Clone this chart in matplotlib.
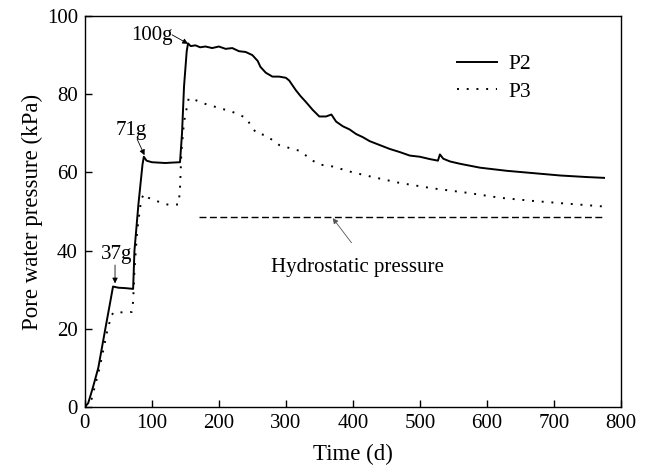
import numpy as np
import matplotlib.pyplot as plt

plt.rcParams['font.family'] = ['Liberation Serif', 'DejaVu Serif']

# ---- data ----
# P2 pore water pressure (kPa) vs time (d)
t_p2 = [0, 5, 12, 20, 30, 38, 42, 50, 60, 72, 74, 80, 86, 88, 92, 100, 110, 120, 130, 142,
        145, 148, 152, 154, 158, 165, 172, 180, 190, 200, 210, 220, 230, 240, 250, 258, 262,
        270, 280, 290, 300, 305, 315, 322, 330, 340, 350, 360, 368, 375, 385, 395, 405, 415,
        425, 440, 455, 470, 485, 500, 515, 527, 530, 535, 545, 560, 575, 590, 610, 630, 650,
        670, 690, 710, 730, 750, 775]
p2 = [0, 1, 5, 10, 19.5, 27, 30.8, 30.5, 30.4, 30.2, 40, 52, 62, 64, 63, 62.6, 62.5, 62.4, 62.5, 62.6,
      70, 82, 91, 93, 92.3, 92.5, 92, 92.2, 91.8, 92.2, 91.6, 91.8, 91, 90.8, 90, 88.5, 87,
      85.5, 84.5, 84.5, 84.2, 83.5, 81, 79.5, 78, 76, 74.3, 74.3, 74.8, 73, 71.8, 71, 69.8, 69,
      68, 67, 66, 65.2, 64.3, 64, 63.4, 63, 64.6, 63.5, 62.8, 62.2, 61.7, 61.2, 60.8, 60.4, 60.1,
      59.8, 59.5, 59.2, 59, 58.8, 58.6]

# P3
t_p3 = [0, 10, 22, 34, 40, 43, 55, 70, 72, 74, 78, 84, 88, 95, 105, 115, 125, 140, 142, 144,
        148, 155, 165, 180, 200, 220, 240, 256, 270, 290, 306, 321, 340, 351, 370, 400, 430,
        470, 520, 570, 620, 669, 720, 773]
p3 = [0, 2, 10, 20, 23.5, 24.2, 24.2, 24.3, 27, 35, 45, 53, 54.5, 53.5, 52.8, 52.2, 51.7, 51.8, 56, 65,
      73, 79, 78.5, 77.5, 76.5, 75.5, 74, 70, 69.5, 67, 66.2, 65.5, 63, 62, 61.5, 60, 58.8,
      57.3, 55.9, 54.8, 53.5, 52.7, 52, 51.3]

# hydrostatic pressure
t_hyd = [170, 772]
p_hyd = [48.6, 48.6]

fig = plt.figure(figsize=(6.48, 4.71), dpi=100)
ax = fig.add_axes([0.131, 0.136, 0.827, 0.830])

ax.plot(t_p2, p2, color='black', lw=1.4, label='P2')
ax.plot(t_p3, p3, color='black', lw=1.4, linestyle=(0, (1, 4)), label='P3')
ax.plot(t_hyd, p_hyd, color='black', lw=1.0, linestyle=(0, (5, 2.5)))

ax.set_xlim(0, 800)
ax.set_ylim(0, 100)
ax.set_xticks(np.arange(0, 801, 100))
ax.set_yticks(np.arange(0, 101, 20))
ax.tick_params(direction='in', length=5, width=1, labelsize=15, top=False, right=False, pad=5)
for s in ax.spines.values():
    s.set_linewidth(1.0)

ax.set_xlabel('Time (d)', fontsize=16.5, labelpad=8)
ax.set_ylabel('Pore water pressure (kPa)', fontsize=16.5, labelpad=3)

arr = dict(arrowstyle='-|>', color='black', lw=0.6, mutation_scale=8, shrinkA=0, shrinkB=0)
ax.text(48, 38.9, '37g', ha='center', va='center', fontsize=15)
ax.annotate('', xy=(45, 31.6), xytext=(45, 36.3), arrowprops=arr)
ax.text(69, 70.8, '71g', ha='center', va='center', fontsize=15)
ax.annotate('', xy=(89, 64.4), xytext=(78, 68.5), arrowprops=arr)
ax.text(100, 95.1, '100g', ha='center', va='center', fontsize=15)
ax.annotate('', xy=(154, 92.9), xytext=(130, 95.2), arrowprops=arr)
ax.text(407, 35.6, 'Hydrostatic pressure', ha='center', va='center', fontsize=15)
ax.annotate('', xy=(370, 48.3), xytext=(398, 42),
            arrowprops=dict(arrowstyle='-|>', color='#555555', lw=0.6,
                            mutation_scale=8, shrinkA=0, shrinkB=0))

leg = ax.legend(loc='upper right', bbox_to_anchor=(0.868, 0.952), frameon=False, fontsize=15.5,
                handlelength=1.85, handletextpad=0.5, labelspacing=0.35)

fig.savefig('out.png', dpi=100)
